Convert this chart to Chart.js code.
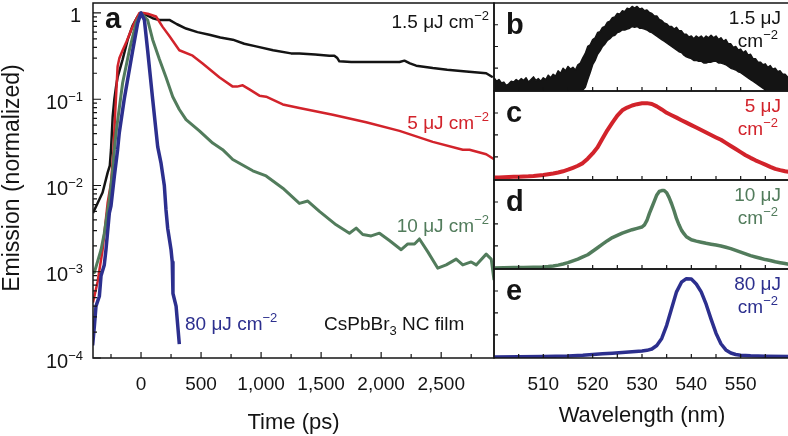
<!DOCTYPE html>
<html>
<head>
<meta charset="utf-8">
<title>CsPbBr3 NC film emission</title>
<script src="https://cdn.jsdelivr.net/npm/chart.js@4.4.0/dist/chart.umd.min.js"></script>
<style>
  html, body { margin: 0; padding: 0; background: #fff; overflow: hidden; }
  #wrap { position: relative; width: 788px; height: 436px; overflow: hidden; }
  canvas { position: absolute; }
</style>
</head>
<body>
<div id="wrap">
  <canvas id="decay" width="500" height="436" style="left:0;top:0"></canvas>
  <canvas id="specB" width="304" height="93" style="left:490px;top:0"></canvas>
  <canvas id="specC" width="304" height="93" style="left:490px;top:89px"></canvas>
  <canvas id="specD" width="304" height="93" style="left:490px;top:178px"></canvas>
  <canvas id="specE" width="304" height="169" style="left:490px;top:267px"></canvas>
</div>

<script>
// ---- panel a: time-resolved emission (ps, normalized) ----
const t15 = [-400, -360, -320, -300, -278, -260, -250, -236, -222, -208,
  -195, -153, -111, -69, -30, 0, 42, 97, 153, 236,
  300, 375, 470, 569, 660, 764, 860, 958, 1100, 1250,
  1319, 1450, 1569, 1610, 1635, 1652, 1750, 1875, 2000, 2153,
  2194, 2240, 2292, 2430, 2550, 2708, 2875, 2930];
const e15 = [0.0048, 0.0063, 0.0083, 0.0107, 0.0141, 0.017, 0.026, 0.063, 0.1, 0.14,
  0.18, 0.29, 0.49, 0.72, 0.9, 1.0, 0.95, 0.87, 0.83, 0.83,
  0.74, 0.66, 0.6, 0.56, 0.52, 0.49, 0.44, 0.41, 0.37, 0.34,
  0.34, 0.33, 0.32, 0.32, 0.3, 0.275, 0.27, 0.27, 0.27, 0.27,
  0.28, 0.26, 0.245, 0.23, 0.22, 0.21, 0.2, 0.18];

const t5 = [-400, -362, -320, -278, -250, -230, -215, -195, -180, -153,
  -125, -83, -40, -14, 20, 55, 125, 180, 236, 319,
  430, 513, 652, 764, 800, 847, 903, 986, 1042, 1181,
  1319, 1597, 1875, 2153, 2430, 2680, 2736, 2875, 2944];
const e5 = [0.00044, 0.00076, 0.0018, 0.0063, 0.0107, 0.025, 0.07, 0.24, 0.3, 0.37,
  0.45, 0.63, 0.85, 1.0, 1.0, 0.98, 0.91, 0.69, 0.54, 0.37,
  0.32, 0.26, 0.18, 0.14, 0.14, 0.145, 0.13, 0.11, 0.107, 0.087,
  0.079, 0.066, 0.054, 0.043, 0.032, 0.026, 0.026, 0.023, 0.02];

const t10 = [-400, -389, -333, -306, -264, -236, -222, -208, -153, -97,
  -42, 0, 55, 97, 153, 208, 264, 319, 375, 486,
  597, 680, 764, 931, 1042, 1181, 1319, 1389, 1486, 1625,
  1736, 1792, 1847, 1917, 1986, 2069, 2167, 2222, 2278, 2319,
  2389, 2472, 2542, 2625, 2680, 2750, 2792, 2875, 2917, 2940];
const e10 = [0.001, 0.00098, 0.0018, 0.0028, 0.0069, 0.015, 0.026, 0.041, 0.155, 0.37,
  0.76, 1.0, 0.83, 0.49, 0.29, 0.18, 0.107, 0.076, 0.058, 0.043,
  0.031, 0.026, 0.02, 0.0148, 0.0129, 0.0093, 0.0062, 0.0066, 0.005, 0.0035,
  0.0028, 0.0032, 0.0027, 0.0026, 0.0028, 0.0023, 0.0018, 0.0021, 0.0021, 0.0024,
  0.0017, 0.0011, 0.0012, 0.0014, 0.0012, 0.0013, 0.0012, 0.0016, 0.0014, 0.0008];

const t80 = [-403, -389, -375, -347, -333, -306, -292, -264, -250, -222,
  -195, -181, -140, -69, -28, 0, 28, 55, 97, 139,
  167, 194, 208, 222, 250, 260, 266, 292, 319];
const e80 = [0.00014, 0.00023, 0.0004, 0.00052, 0.0009, 0.0012, 0.0018, 0.0048, 0.0058, 0.0129,
  0.026, 0.041, 0.1, 0.37, 0.76, 1.0, 0.83, 0.37, 0.1, 0.028,
  0.018, 0.01, 0.0052, 0.0032, 0.0018, 0.0013, 0.00056, 0.0004, 0.000145];

const timeTicks = [0, 500, 1000, 1500, 2000, 2500];
const timeMinor = [-250, 250, 750, 1250, 1750, 2250, 2750];
const emisTicks = [1e-4, 1e-3, 1e-2, 1e-1, 1];
const emisExp = ['−4', '−3', '−2', '−1', ''];
const minorMult = [2, 3, 4, 5, 6, 7, 8, 9];

// ---- panel b: 1.5 uJ spectrum, noisy band (lower / upper edge) ----
const wlB = [500, 500.5, 501, 501.5, 502, 502.5, 503, 503.5, 504, 504.5,
  505, 505.5, 506, 506.5, 507, 507.5, 508, 508.5, 509, 509.5,
  510, 510.5, 511, 511.5, 512, 512.5, 513, 513.5, 514, 514.5,
  515, 515.5, 516, 516.5, 517, 517.5, 518, 518.5, 519, 519.5,
  520, 520.5, 521, 521.5, 522, 522.5, 523, 523.5, 524, 524.5,
  525, 525.5, 526, 526.5, 527, 527.5, 528, 528.5, 529, 529.5,
  530, 530.5, 531, 531.5, 532, 532.5, 533, 533.5, 534, 534.5,
  535, 535.5, 536, 536.5, 537, 537.5, 538, 538.5, 539, 539.5,
  540, 540.5, 541, 541.5, 542, 542.5, 543, 543.5, 544, 544.5,
  545, 545.5, 546, 546.5, 547, 547.5, 548, 548.5, 549, 549.5,
  550, 550.5, 551, 551.5, 552, 552.5, 553, 553.5, 554, 554.5,
  555, 555.5, 556, 556.5, 557, 557.5, 558, 558.5, 559, 559.5, 560];
const bHigh = [0.14, 0.10, 0.12, 0.08, 0.09, 0.05, 0.07, 0.10, 0.09, 0.12,
  0.10, 0.13, 0.11, 0.14, 0.09, 0.12, 0.15, 0.11, 0.13, 0.10,
  0.14, 0.12, 0.17, 0.14, 0.18, 0.16, 0.22, 0.19, 0.25, 0.22,
  0.27, 0.24, 0.26, 0.23, 0.29, 0.31, 0.37, 0.42, 0.50, 0.52,
  0.58, 0.60, 0.66, 0.67, 0.72, 0.73, 0.78, 0.79, 0.83, 0.84,
  0.88, 0.87, 0.91, 0.90, 0.94, 0.93, 0.96, 0.94, 0.96, 0.93,
  0.94, 0.91, 0.92, 0.89, 0.88, 0.85, 0.85, 0.81, 0.80, 0.77,
  0.76, 0.73, 0.73, 0.70, 0.72, 0.68, 0.68, 0.64, 0.64, 0.61,
  0.62, 0.59, 0.62, 0.60, 0.62, 0.59, 0.62, 0.60, 0.63, 0.60,
  0.62, 0.58, 0.60, 0.56, 0.58, 0.53, 0.53, 0.49, 0.50, 0.46,
  0.47, 0.43, 0.45, 0.40, 0.41, 0.36, 0.36, 0.32, 0.32, 0.29,
  0.30, 0.26, 0.28, 0.24, 0.25, 0.21, 0.22, 0.18, 0.18, 0.15, 0.14];
const bLow = [0, 0, 0, 0, 0, 0, 0, 0, 0, 0,
  0, 0, 0, 0, 0, 0, 0, 0, 0, 0,
  0, 0, 0, 0, 0, 0, 0, 0, 0, 0,
  0, 0, 0, 0, 0, 0, 0, 0.03, 0.12, 0.20,
  0.29, 0.34, 0.41, 0.45, 0.50, 0.53, 0.57, 0.59, 0.62, 0.63,
  0.66, 0.67, 0.69, 0.69, 0.70, 0.71, 0.73, 0.72, 0.73, 0.71,
  0.71, 0.70, 0.69, 0.67, 0.66, 0.64, 0.62, 0.60, 0.58, 0.56,
  0.54, 0.52, 0.50, 0.48, 0.46, 0.44, 0.43, 0.40, 0.38, 0.37,
  0.36, 0.34, 0.34, 0.33, 0.33, 0.31, 0.31, 0.32, 0.32, 0.33,
  0.33, 0.31, 0.31, 0.30, 0.29, 0.27, 0.25, 0.24, 0.23, 0.21,
  0.20, 0.18, 0.16, 0.14, 0.12, 0.10, 0.08, 0.06, 0.04, 0.02,
  0, 0, 0, 0, 0, 0, 0, 0, 0, 0, 0];

// ---- panel c: 5 uJ spectrum ----
const wlC = [500, 501, 502, 503, 504, 505, 506, 507, 508, 509,
  510, 511, 512, 513, 514, 515, 516, 517, 518, 519,
  520, 521, 522, 523, 524, 525, 526, 527, 528, 529,
  530, 531, 532, 533, 534, 535, 536, 537, 538, 539,
  540, 541, 542, 543, 544, 545, 546, 547, 548, 549,
  550, 551, 552, 553, 554, 555, 556, 557, 558, 559, 560];
const sC = [0.015, 0.017, 0.02, 0.022, 0.024, 0.026, 0.028, 0.03, 0.034, 0.04,
  0.046, 0.054, 0.062, 0.073, 0.087, 0.105, 0.127, 0.15, 0.18, 0.23,
  0.29, 0.36, 0.46, 0.556, 0.64, 0.72, 0.78, 0.812, 0.835, 0.85,
  0.86, 0.862, 0.852, 0.825, 0.79, 0.752, 0.725, 0.697, 0.668, 0.64,
  0.612, 0.585, 0.556, 0.528, 0.5, 0.472, 0.445, 0.41, 0.375, 0.34,
  0.305, 0.27, 0.24, 0.212, 0.187, 0.163, 0.138, 0.115, 0.1, 0.088, 0.078];

// ---- panel d: 10 uJ spectrum ----
const wlD = [500, 502, 504, 506, 508,
  510, 511, 512, 513, 514, 515, 516, 517, 518, 519, 520,
  521, 522, 523, 524, 525, 526, 527, 528, 529, 530,
  530.5, 531, 531.5, 532, 532.5, 533, 533.5, 534, 534.5, 535,
  535.5, 536, 536.5, 537, 537.5, 538, 538.5, 539,
  540, 541, 542, 543, 544, 545, 546, 547, 548, 549, 550,
  551, 552, 553, 554, 555, 556, 557, 558, 559, 560];
const sD = [0.0, 0.002, 0.004, 0.005, 0.008,
  0.012, 0.016, 0.022, 0.032, 0.045, 0.06, 0.08, 0.1, 0.125, 0.15, 0.19,
  0.23, 0.27, 0.31, 0.345, 0.37, 0.395, 0.415, 0.435, 0.45, 0.465,
  0.49, 0.54, 0.62, 0.69, 0.76, 0.83, 0.87, 0.88, 0.88, 0.855,
  0.8, 0.73, 0.65, 0.56, 0.49, 0.43, 0.39, 0.355,
  0.32, 0.305, 0.292, 0.28, 0.27, 0.26, 0.25, 0.235, 0.22, 0.2, 0.18,
  0.16, 0.14, 0.125, 0.11, 0.095, 0.085, 0.07, 0.06, 0.05, 0.04];

// ---- panel e: 80 uJ spectrum ----
const wlE = [500, 505, 510, 515, 518, 520, 522, 524, 526, 528,
  530, 531, 532, 533, 534, 535, 536, 537, 538, 539,
  540, 541, 542, 543, 544, 545, 546, 547, 548, 549,
  550, 552, 555, 560];
const sE = [0.0, 0.002, 0.005, 0.012, 0.02, 0.028, 0.035, 0.043, 0.05, 0.058,
  0.068, 0.075, 0.09, 0.13, 0.21, 0.36, 0.55, 0.74, 0.85, 0.89,
  0.885, 0.83, 0.74, 0.6, 0.43, 0.27, 0.15, 0.08, 0.045, 0.028,
  0.02, 0.013, 0.008, 0.004];

const wlTicks = [510, 520, 530, 540, 550];
const wlMinor = [505, 510, 515, 520, 525, 530, 535, 540, 545, 550, 555];
const specTicks = [0.25, 0.5, 0.75];

const INK = '#141414';
const RED = '#d2232b';
const GREEN = '#527c5c';
const BLUE = '#2c2f8e';
const FONT = '"Liberation Sans", Arial, Helvetica, sans-serif';

Chart.defaults.font.family = FONT;
Chart.defaults.color = INK;

function pts(xs, ys) {
  return xs.map((v, i) => ({ x: v, y: ys[i] }));
}

function setFont(ctx, size, bold) {
  ctx.font = (bold ? 'bold ' : '') + size + 'px ' + FONT;
}

// draw a run of text pieces (for superscripts / subscripts)
function rich(ctx, parts, x, y, align, color) {
  ctx.fillStyle = color;
  ctx.textAlign = 'left';
  ctx.textBaseline = 'alphabetic';
  let w = 0;
  parts.forEach(p => { setFont(ctx, p.s, p.b); w += ctx.measureText(p.t).width; });
  let cx = align === 'right' ? x - w : x;
  parts.forEach(p => {
    setFont(ctx, p.s, p.b);
    ctx.fillText(p.t, cx, y + (p.dy || 0));
    cx += ctx.measureText(p.t).width;
  });
}

const decayDeco = {
  id: 'decayDeco',
  afterDraw(chart) {
    const { ctx, chartArea: a, scales: { x, y } } = chart;
    ctx.save();
    ctx.strokeStyle = INK;
    ctx.lineWidth = 1.5;
    ctx.strokeRect(a.left, a.top, a.right - a.left, a.bottom - a.top);

    ctx.lineWidth = 1.2;
    ctx.beginPath();
    timeTicks.forEach(v => {
      const px = x.getPixelForValue(v);
      ctx.moveTo(px, a.bottom); ctx.lineTo(px, a.bottom - 6);
    });
    timeMinor.forEach(v => {
      const px = x.getPixelForValue(v);
      ctx.moveTo(px, a.bottom); ctx.lineTo(px, a.bottom - 4);
    });
    emisTicks.forEach((d, i) => {
      const py = y.getPixelForValue(d);
      ctx.moveTo(a.left, py); ctx.lineTo(a.left + 8, py);
      if (i < emisTicks.length - 1) {
        minorMult.forEach(m => {
          const q = y.getPixelForValue(d * m);
          ctx.moveTo(a.left, q); ctx.lineTo(a.left + 4, q);
        });
      }
    });
    ctx.stroke();

    // y tick labels 10^-n
    emisTicks.forEach((d, i) => {
      const py = y.getPixelForValue(d) + 9.5;
      if (emisExp[i] === '') {
        rich(ctx, [{ t: '1', s: 20 }], a.left - 12, py, 'right', INK);
      } else {
        rich(ctx, [{ t: '10', s: 20 }, { t: emisExp[i], s: 13, dy: -8 }], a.left - 10, py, 'right', INK);
      }
    });

    // y title
    ctx.save();
    ctx.translate(13, 178);
    ctx.rotate(-Math.PI / 2);
    setFont(ctx, 23);
    ctx.fillStyle = INK;
    ctx.textAlign = 'center';
    ctx.textBaseline = 'middle';
    ctx.fillText('Emission (normalized)', 0, 0);
    ctx.restore();

    // panel letter and series labels
    rich(ctx, [{ t: 'a', s: 29, b: true }], 105, 28, 'left', INK);
    rich(ctx, [{ t: '1.5 μJ cm', s: 19 }, { t: '−2', s: 13, dy: -8 }], 489, 28, 'right', INK);
    rich(ctx, [{ t: '5 μJ cm', s: 19 }, { t: '−2', s: 13, dy: -8 }], 489, 129, 'right', RED);
    rich(ctx, [{ t: '10 μJ cm', s: 19 }, { t: '−2', s: 13, dy: -8 }], 489, 232, 'right', GREEN);
    rich(ctx, [{ t: '80 μJ cm', s: 19 }, { t: '−2', s: 13, dy: -8 }], 185, 330, 'left', BLUE);
    rich(ctx, [{ t: 'CsPbBr', s: 19 }, { t: '3', s: 13, dy: 5 }, { t: ' NC film', s: 19 }], 324, 330, 'left', INK);
    ctx.restore();
  }
};

new Chart(document.getElementById('decay'), {
  type: 'line',
  data: {
    datasets: [
      { data: pts(t80, e80), borderColor: BLUE, borderWidth: 3.5 },
      { data: pts(t10, e10), borderColor: GREEN, borderWidth: 3 },
      { data: pts(t5, e5), borderColor: RED, borderWidth: 2.5 },
      { data: pts(t15, e15), borderColor: INK, borderWidth: 2.5 }
    ]
  },
  options: {
    responsive: false,
    animation: false,
    devicePixelRatio: 1,
    layout: { padding: { left: 93, right: 6, top: 3, bottom: 0 } },
    elements: { point: { radius: 0 }, line: { tension: 0, borderJoinStyle: 'round' } },
    plugins: { legend: { display: false }, tooltip: { enabled: false } },
    scales: {
      x: {
        type: 'linear', min: -400, max: 2940,
        grid: { display: false, drawTicks: false },
        border: { display: false },
        afterBuildTicks: s => { s.ticks = timeTicks.map(v => ({ value: v })); },
        afterFit: s => { s.height = 78; },
        ticks: {
          padding: 15, maxRotation: 0, autoSkip: false, color: INK,
          font: { size: 19 },
          callback: v => v.toLocaleString('en-US')
        },
        title: { display: true, text: 'Time (ps)', color: INK, font: { size: 22 }, padding: { top: 0, bottom: 0 } }
      },
      y: { type: 'logarithmic', min: 1e-4, max: 1.305, display: false }
    }
  },
  plugins: [decayDeco]
});

function panelDeco(letter, amount, color) {
  return {
    id: 'panelDeco',
    afterDraw(chart) {
      const { ctx, chartArea: a, scales: { x, y } } = chart;
      ctx.save();
      ctx.strokeStyle = INK;
      ctx.lineWidth = 1.5;
      ctx.strokeRect(a.left, a.top, a.right - a.left, a.bottom - a.top);
      ctx.lineWidth = 1.2;
      ctx.beginPath();
      wlMinor.forEach(v => {
        const px = x.getPixelForValue(v);
        ctx.moveTo(px, a.bottom); ctx.lineTo(px, a.bottom - 4);
      });
      specTicks.forEach(v => {
        const py = y.getPixelForValue(v);
        ctx.moveTo(a.left, py); ctx.lineTo(a.left + 4, py);
      });
      ctx.stroke();
      rich(ctx, [{ t: letter, s: 29, b: true }], a.left + 12, a.top + 31, 'left', INK);
      rich(ctx, [{ t: amount + ' μJ', s: 19 }], 291, a.top + 21, 'right', color);
      rich(ctx, [{ t: 'cm', s: 19 }, { t: '−2', s: 13, dy: -8 }], 288, a.top + 44, 'right', color);
      ctx.restore();
    }
  };
}

function panelChart(id, datasets, deco, withAxis) {
  const xScale = {
    type: 'linear', min: 500, max: 560, display: withAxis,
    grid: { display: false, drawTicks: false },
    border: { display: false },
    afterBuildTicks: s => { s.ticks = wlTicks.map(v => ({ value: v })); },
    ticks: { padding: 15, maxRotation: 0, autoSkip: false, color: INK, font: { size: 19 } },
    title: { display: true, text: 'Wavelength (nm)', color: INK, font: { size: 22 }, padding: { top: 0, bottom: 7 } }
  };
  if (withAxis) xScale.afterFit = s => { s.height = 78; };
  return new Chart(document.getElementById(id), {
    type: 'line',
    data: { datasets },
    options: {
      responsive: false,
      animation: false,
      devicePixelRatio: 1,
      layout: { padding: { left: 4, right: 4, top: id === 'specB' ? 3 : 2, bottom: withAxis ? 0 : 2 } },
      elements: { point: { radius: 0 }, line: { tension: 0, borderJoinStyle: 'round' } },
      plugins: { legend: { display: false }, tooltip: { enabled: false } },
      scales: {
        x: xScale,
        y: { type: 'linear', min: -0.012, max: 1, display: false }
      }
    },
    plugins: [deco]
  });
}

panelChart('specB', [
  { data: pts(wlB, bLow), borderColor: INK, borderWidth: 1.5, fill: false },
  { data: pts(wlB, bHigh), borderColor: INK, borderWidth: 1.5, backgroundColor: INK, fill: '-1' }
], panelDeco('b', '1.5', INK), false);

panelChart('specC', [
  { data: pts(wlC, sC), borderColor: RED, borderWidth: 4 }
], panelDeco('c', '5', RED), false);

panelChart('specD', [
  { data: pts(wlD, sD), borderColor: GREEN, borderWidth: 3.5 }
], panelDeco('d', '10', GREEN), false);

panelChart('specE', [
  { data: pts(wlE, sE), borderColor: BLUE, borderWidth: 3.5 }
], panelDeco('e', '80', BLUE), true);
</script>
</body>
</html>
